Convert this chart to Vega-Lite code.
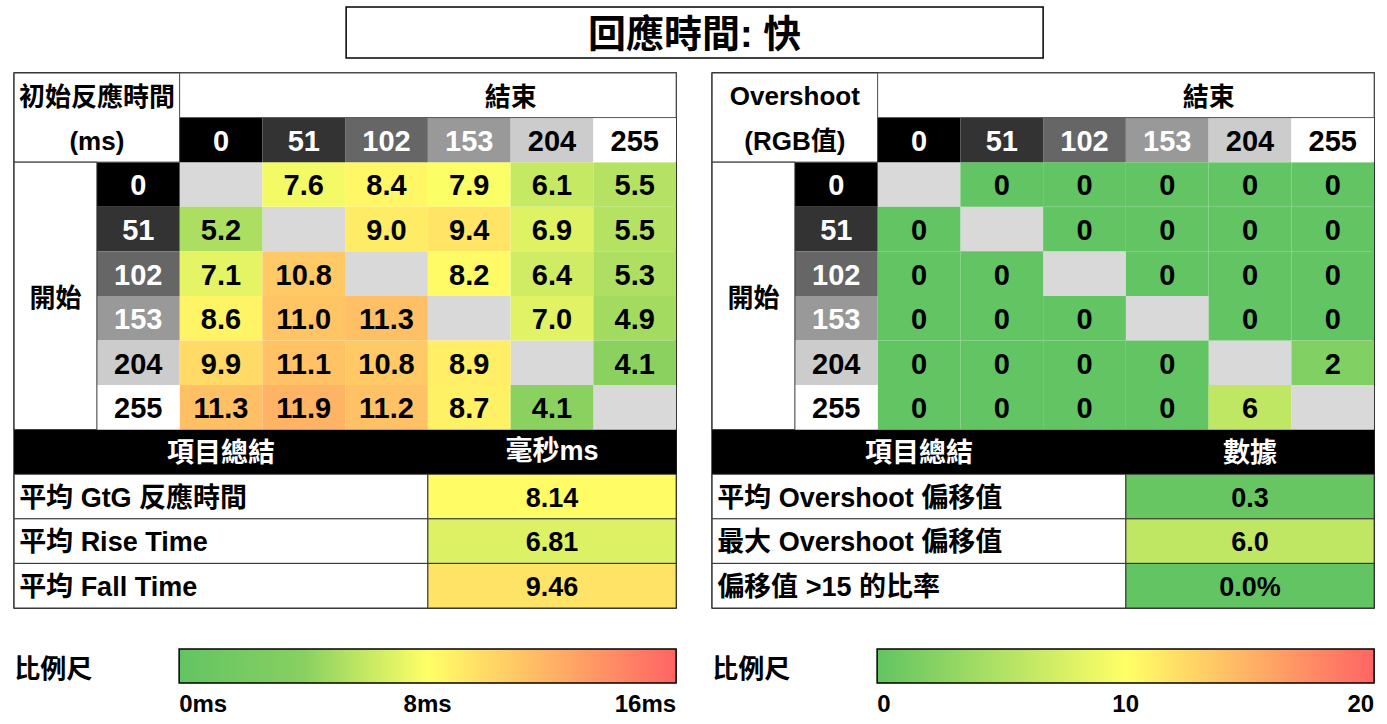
{
  "$schema": "https://vega.github.io/schema/vega-lite/v6.json",
  "background": "white",
  "padding": {"left": 12, "top": 6, "right": 15, "bottom": 5},
  "config": {"view": {"stroke": null}},
  "datasets": {
    "gtg": [
      {"start": "0", "end": "0", "value": null}, {"start": "0", "end": "51", "value": 7.6}, {"start": "0", "end": "102", "value": 8.4}, {"start": "0", "end": "153", "value": 7.9}, {"start": "0", "end": "204", "value": 6.1}, {"start": "0", "end": "255", "value": 5.5},
      {"start": "51", "end": "0", "value": 5.2}, {"start": "51", "end": "51", "value": null}, {"start": "51", "end": "102", "value": 9.0}, {"start": "51", "end": "153", "value": 9.4}, {"start": "51", "end": "204", "value": 6.9}, {"start": "51", "end": "255", "value": 5.5},
      {"start": "102", "end": "0", "value": 7.1}, {"start": "102", "end": "51", "value": 10.8}, {"start": "102", "end": "102", "value": null}, {"start": "102", "end": "153", "value": 8.2}, {"start": "102", "end": "204", "value": 6.4}, {"start": "102", "end": "255", "value": 5.3},
      {"start": "153", "end": "0", "value": 8.6}, {"start": "153", "end": "51", "value": 11.0}, {"start": "153", "end": "102", "value": 11.3}, {"start": "153", "end": "153", "value": null}, {"start": "153", "end": "204", "value": 7.0}, {"start": "153", "end": "255", "value": 4.9},
      {"start": "204", "end": "0", "value": 9.9}, {"start": "204", "end": "51", "value": 11.1}, {"start": "204", "end": "102", "value": 10.8}, {"start": "204", "end": "153", "value": 8.9}, {"start": "204", "end": "204", "value": null}, {"start": "204", "end": "255", "value": 4.1},
      {"start": "255", "end": "0", "value": 11.3}, {"start": "255", "end": "51", "value": 11.9}, {"start": "255", "end": "102", "value": 11.2}, {"start": "255", "end": "153", "value": 8.7}, {"start": "255", "end": "204", "value": 4.1}, {"start": "255", "end": "255", "value": null}
    ],
    "overshoot": [
      {"start": "0", "end": "0", "value": null}, {"start": "0", "end": "51", "value": 0}, {"start": "0", "end": "102", "value": 0}, {"start": "0", "end": "153", "value": 0}, {"start": "0", "end": "204", "value": 0}, {"start": "0", "end": "255", "value": 0},
      {"start": "51", "end": "0", "value": 0}, {"start": "51", "end": "51", "value": null}, {"start": "51", "end": "102", "value": 0}, {"start": "51", "end": "153", "value": 0}, {"start": "51", "end": "204", "value": 0}, {"start": "51", "end": "255", "value": 0},
      {"start": "102", "end": "0", "value": 0}, {"start": "102", "end": "51", "value": 0}, {"start": "102", "end": "102", "value": null}, {"start": "102", "end": "153", "value": 0}, {"start": "102", "end": "204", "value": 0}, {"start": "102", "end": "255", "value": 0},
      {"start": "153", "end": "0", "value": 0}, {"start": "153", "end": "51", "value": 0}, {"start": "153", "end": "102", "value": 0}, {"start": "153", "end": "153", "value": null}, {"start": "153", "end": "204", "value": 0}, {"start": "153", "end": "255", "value": 0},
      {"start": "204", "end": "0", "value": 0}, {"start": "204", "end": "51", "value": 0}, {"start": "204", "end": "102", "value": 0}, {"start": "204", "end": "153", "value": 0}, {"start": "204", "end": "204", "value": null}, {"start": "204", "end": "255", "value": 2},
      {"start": "255", "end": "0", "value": 0}, {"start": "255", "end": "51", "value": 0}, {"start": "255", "end": "102", "value": 0}, {"start": "255", "end": "153", "value": 0}, {"start": "255", "end": "204", "value": 6}, {"start": "255", "end": "255", "value": null}
    ],
    "levels": [
      {"level": "0", "gray": 0}, {"level": "51", "gray": 51}, {"level": "102", "gray": 102},
      {"level": "153", "gray": 153}, {"level": "204", "gray": 204}, {"level": "255", "gray": 255}
    ],
    "gtgSummary": [
      {"item": "平均 GtG 反應時間", "value": 8.14},
      {"item": "平均 Rise Time", "value": 6.81},
      {"item": "平均 Fall Time", "value": 9.46}
    ],
    "osSummary": [
      {"item": "平均 Overshoot 偏移值", "value": 0.3, "kind": "value"},
      {"item": "最大 Overshoot 偏移值", "value": 6.0, "kind": "value"},
      {"item": "偏移值 >15 的比率", "value": 0.0, "kind": "ratio"}
    ]
  },
  "spacing": 12,
  "center": true,
  "vconcat": [
    {
      "width": 697,
      "height": 51,
      "view": {"stroke": "black", "strokeWidth": 1.5},
      "data": {"values": [{"title": "回應時間:  快"}]},
      "mark": {"type": "text", "font": "Liberation Sans, Noto Sans CJK TC", "fontWeight": "bold", "fontSize": 38, "baseline": "middle", "dy": 3, "color": "black"},
      "encoding": {"text": {"field": "title"}}
    },
    {
      "spacing": 32,
      "resolve": {"scale": {"color": "independent", "fill": "independent"}, "legend": {"color": "independent"}},
      "hconcat": [
        {
          "width": 662,
          "height": 535,
          "view": {"stroke": "black", "strokeWidth": 1.5},
          "layer": [
            {
              "data": {"name": "gtg"},
              "transform": [{"filter": "datum.value == null"}],
              "mark": {"type": "rect", "fill": "#d9d9d9"},
              "encoding": {
                "x": {"field": "end", "type": "ordinal", "axis": null, "scale": {"type": "band", "domain": ["lab", "hdr", "0", "51", "102", "153", "204", "255"], "paddingInner": 0, "paddingOuter": 0}},
                "y": {"field": "start", "type": "ordinal", "axis": null, "scale": {"type": "band", "domain": ["top", "cols", "0", "51", "102", "153", "204", "255", "sum", "平均 GtG 反應時間", "平均 Rise Time", "平均 Fall Time"], "paddingInner": 0, "paddingOuter": 0}}
              }
            },
            {
              "data": {"name": "gtg"},
              "transform": [{"filter": "datum.value != null"}],
              "mark": {"type": "rect"},
              "encoding": {
                "x": {"field": "end", "type": "ordinal", "axis": null, "scale": {"type": "band", "domain": ["lab", "hdr", "0", "51", "102", "153", "204", "255"], "paddingInner": 0, "paddingOuter": 0}},
                "y": {"field": "start", "type": "ordinal", "axis": null, "scale": {"type": "band", "domain": ["top", "cols", "0", "51", "102", "153", "204", "255", "sum", "平均 GtG 反應時間", "平均 Rise Time", "平均 Fall Time"], "paddingInner": 0, "paddingOuter": 0}},
                "color": {
                  "field": "value", "type": "quantitative",
                  "scale": {"type": "linear", "domain": [0, 4, 8, 16], "range": ["#62c462", "#88d060", "#ffff66", "#ff6464"], "interpolate": "rgb"},
                  "legend": {
                    "title": "比例尺", "orient": "bottom", "direction": "horizontal", "offset": 41, "padding": 0,
                    "gradientLength": 497, "gradientThickness": 34, "gradientStrokeColor": "black", "gradientStrokeWidth": 1.5,
                    "values": [0, 8, 16], "labelExpr": "datum.value + 'ms'", "labelOverlap": false,
                    "labelFont": "Liberation Sans", "labelFontSize": 24, "labelFontWeight": "bold", "labelColor": "black", "labelOffset": 10,
                    "titleOrient": "left", "titleFont": "Noto Sans CJK TC", "titleFontSize": 26, "titleFontWeight": "bold", "titleColor": "black", "titlePadding": 86,
                    "titleBaseline": "line-top", "titleLineHeight": 8
                  }
                }
              }
            },
            {
              "data": {"name": "gtg"},
              "transform": [{"filter": "datum.value != null"}],
              "mark": {"type": "text", "font": "Liberation Sans", "fontWeight": "bold", "fontSize": 29, "baseline": "middle", "dy": 2, "color": "black"},
              "encoding": {
                "x": {"field": "end", "type": "ordinal", "axis": null, "scale": {"type": "band", "domain": ["lab", "hdr", "0", "51", "102", "153", "204", "255"], "paddingInner": 0, "paddingOuter": 0}},
                "y": {"field": "start", "type": "ordinal", "axis": null, "scale": {"type": "band", "domain": ["top", "cols", "0", "51", "102", "153", "204", "255", "sum", "平均 GtG 反應時間", "平均 Rise Time", "平均 Fall Time"], "paddingInner": 0, "paddingOuter": 0}},
                "text": {"field": "value", "type": "quantitative", "format": ".1f"}
              }
            },
            {
              "data": {"name": "levels"},
              "mark": {"type": "rect"},
              "encoding": {
                "x": {"field": "level", "type": "ordinal", "axis": null, "scale": {"type": "band", "domain": ["lab", "hdr", "0", "51", "102", "153", "204", "255"], "paddingInner": 0, "paddingOuter": 0}},
                "y": {"datum": "cols", "type": "ordinal", "axis": null, "scale": {"type": "band", "domain": ["top", "cols", "0", "51", "102", "153", "204", "255", "sum", "平均 GtG 反應時間", "平均 Rise Time", "平均 Fall Time"], "paddingInner": 0, "paddingOuter": 0}},
                "fill": {"field": "gray", "type": "quantitative", "legend": null, "scale": {"type": "linear", "domain": [0, 255], "range": ["#000000", "#ffffff"], "interpolate": "rgb"}}
              }
            },
            {
              "data": {"name": "levels"},
              "mark": {"type": "rect"},
              "encoding": {
                "x": {"datum": "hdr", "type": "ordinal", "axis": null, "scale": {"type": "band", "domain": ["lab", "hdr", "0", "51", "102", "153", "204", "255"], "paddingInner": 0, "paddingOuter": 0}},
                "y": {"field": "level", "type": "ordinal", "axis": null, "scale": {"type": "band", "domain": ["top", "cols", "0", "51", "102", "153", "204", "255", "sum", "平均 GtG 反應時間", "平均 Rise Time", "平均 Fall Time"], "paddingInner": 0, "paddingOuter": 0}},
                "fill": {"field": "gray", "type": "quantitative", "legend": null, "scale": {"type": "linear", "domain": [0, 255], "range": ["#000000", "#ffffff"], "interpolate": "rgb"}}
              }
            },
            {
              "data": {"name": "levels"},
              "mark": {"type": "text", "font": "Liberation Sans", "fontWeight": "bold", "fontSize": 29, "baseline": "middle", "dy": 2},
              "encoding": {
                "x": {"field": "level", "type": "ordinal", "axis": null, "scale": {"type": "band", "domain": ["lab", "hdr", "0", "51", "102", "153", "204", "255"], "paddingInner": 0, "paddingOuter": 0}},
                "y": {"datum": "cols", "type": "ordinal", "axis": null, "scale": {"type": "band", "domain": ["top", "cols", "0", "51", "102", "153", "204", "255", "sum", "平均 GtG 反應時間", "平均 Rise Time", "平均 Fall Time"], "paddingInner": 0, "paddingOuter": 0}},
                "text": {"field": "level"},
                "color": {"condition": {"test": "datum.gray < 180", "value": "white"}, "value": "black"}
              }
            },
            {
              "data": {"name": "levels"},
              "mark": {"type": "text", "font": "Liberation Sans", "fontWeight": "bold", "fontSize": 29, "baseline": "middle", "dy": 2},
              "encoding": {
                "x": {"datum": "hdr", "type": "ordinal", "axis": null, "scale": {"type": "band", "domain": ["lab", "hdr", "0", "51", "102", "153", "204", "255"], "paddingInner": 0, "paddingOuter": 0}},
                "y": {"field": "level", "type": "ordinal", "axis": null, "scale": {"type": "band", "domain": ["top", "cols", "0", "51", "102", "153", "204", "255", "sum", "平均 GtG 反應時間", "平均 Rise Time", "平均 Fall Time"], "paddingInner": 0, "paddingOuter": 0}},
                "text": {"field": "level"},
                "color": {"condition": {"test": "datum.gray < 180", "value": "white"}, "value": "black"}
              }
            },
            {
              "data": {"values": [{"label": "初始反應時間", "unit": "(ms)"}]},
              "mark": {"type": "rect", "fill": "white", "stroke": "#333333", "strokeWidth": 1},
              "encoding": {
                "x": {"datum": "lab", "bandPosition": 0, "type": "ordinal", "axis": null, "scale": {"type": "band", "domain": ["lab", "hdr", "0", "51", "102", "153", "204", "255"], "paddingInner": 0, "paddingOuter": 0}},
                "x2": {"datum": "hdr", "bandPosition": 1},
                "y": {"datum": "top", "bandPosition": 0, "type": "ordinal", "axis": null, "scale": {"type": "band", "domain": ["top", "cols", "0", "51", "102", "153", "204", "255", "sum", "平均 GtG 反應時間", "平均 Rise Time", "平均 Fall Time"], "paddingInner": 0, "paddingOuter": 0}},
                "y2": {"datum": "cols", "bandPosition": 1}
              }
            },
            {
              "data": {"values": [{"label": "初始反應時間", "unit": "(ms)"}]},
              "mark": {"type": "text", "font": "Noto Sans CJK TC", "fontWeight": "bold", "fontSize": 26, "baseline": "middle", "dy": 3, "color": "black"},
              "encoding": {
                "x": {"datum": "lab", "bandPosition": 1, "type": "ordinal", "axis": null, "scale": {"type": "band", "domain": ["lab", "hdr", "0", "51", "102", "153", "204", "255"], "paddingInner": 0, "paddingOuter": 0}},
                "y": {"datum": "top", "type": "ordinal", "axis": null, "scale": {"type": "band", "domain": ["top", "cols", "0", "51", "102", "153", "204", "255", "sum", "平均 GtG 反應時間", "平均 Rise Time", "平均 Fall Time"], "paddingInner": 0, "paddingOuter": 0}},
                "text": {"field": "label"}
              }
            },
            {
              "data": {"values": [{"label": "初始反應時間", "unit": "(ms)"}]},
              "mark": {"type": "text", "font": "Liberation Sans", "fontWeight": "bold", "fontSize": 26, "baseline": "middle", "dy": 2, "color": "black"},
              "encoding": {
                "x": {"datum": "lab", "bandPosition": 1, "type": "ordinal", "axis": null, "scale": {"type": "band", "domain": ["lab", "hdr", "0", "51", "102", "153", "204", "255"], "paddingInner": 0, "paddingOuter": 0}},
                "y": {"datum": "cols", "type": "ordinal", "axis": null, "scale": {"type": "band", "domain": ["top", "cols", "0", "51", "102", "153", "204", "255", "sum", "平均 GtG 反應時間", "平均 Rise Time", "平均 Fall Time"], "paddingInner": 0, "paddingOuter": 0}},
                "text": {"field": "unit"}
              }
            },
            {
              "data": {"values": [{"label": "結束"}]},
              "mark": {"type": "rect", "fill": "white", "stroke": "#555555", "strokeWidth": 1},
              "encoding": {
                "x": {"datum": "0", "bandPosition": 0, "type": "ordinal", "axis": null, "scale": {"type": "band", "domain": ["lab", "hdr", "0", "51", "102", "153", "204", "255"], "paddingInner": 0, "paddingOuter": 0}},
                "x2": {"datum": "255", "bandPosition": 1},
                "y": {"datum": "top", "type": "ordinal", "axis": null, "scale": {"type": "band", "domain": ["top", "cols", "0", "51", "102", "153", "204", "255", "sum", "平均 GtG 反應時間", "平均 Rise Time", "平均 Fall Time"], "paddingInner": 0, "paddingOuter": 0}}
              }
            },
            {
              "data": {"values": [{"label": "結束"}]},
              "mark": {"type": "text", "font": "Noto Sans CJK TC", "fontWeight": "bold", "fontSize": 26, "baseline": "middle", "dy": 3, "color": "black"},
              "encoding": {
                "x": {"datum": "153", "bandPosition": 1, "type": "ordinal", "axis": null, "scale": {"type": "band", "domain": ["lab", "hdr", "0", "51", "102", "153", "204", "255"], "paddingInner": 0, "paddingOuter": 0}},
                "y": {"datum": "top", "type": "ordinal", "axis": null, "scale": {"type": "band", "domain": ["top", "cols", "0", "51", "102", "153", "204", "255", "sum", "平均 GtG 反應時間", "平均 Rise Time", "平均 Fall Time"], "paddingInner": 0, "paddingOuter": 0}},
                "text": {"field": "label"}
              }
            },
            {
              "data": {"values": [{"label": "開始"}]},
              "mark": {"type": "rect", "fill": "white", "stroke": "#333333", "strokeWidth": 1},
              "encoding": {
                "x": {"datum": "lab", "type": "ordinal", "axis": null, "scale": {"type": "band", "domain": ["lab", "hdr", "0", "51", "102", "153", "204", "255"], "paddingInner": 0, "paddingOuter": 0}},
                "y": {"datum": "0", "bandPosition": 0, "type": "ordinal", "axis": null, "scale": {"type": "band", "domain": ["top", "cols", "0", "51", "102", "153", "204", "255", "sum", "平均 GtG 反應時間", "平均 Rise Time", "平均 Fall Time"], "paddingInner": 0, "paddingOuter": 0}},
                "y2": {"datum": "255", "bandPosition": 1}
              }
            },
            {
              "data": {"values": [{"label": "開始"}]},
              "mark": {"type": "text", "font": "Noto Sans CJK TC", "fontWeight": "bold", "fontSize": 26, "baseline": "middle", "dy": 3, "color": "black"},
              "encoding": {
                "x": {"datum": "lab", "type": "ordinal", "axis": null, "scale": {"type": "band", "domain": ["lab", "hdr", "0", "51", "102", "153", "204", "255"], "paddingInner": 0, "paddingOuter": 0}},
                "y": {"datum": "102", "bandPosition": 1, "type": "ordinal", "axis": null, "scale": {"type": "band", "domain": ["top", "cols", "0", "51", "102", "153", "204", "255", "sum", "平均 GtG 反應時間", "平均 Rise Time", "平均 Fall Time"], "paddingInner": 0, "paddingOuter": 0}},
                "text": {"field": "label"}
              }
            },
            {
              "data": {"values": [{"item": "項目總結", "unit": "毫秒ms"}]},
              "mark": {"type": "rect", "fill": "black"},
              "encoding": {
                "x": {"datum": "lab", "bandPosition": 0, "type": "ordinal", "axis": null, "scale": {"type": "band", "domain": ["lab", "hdr", "0", "51", "102", "153", "204", "255"], "paddingInner": 0, "paddingOuter": 0}},
                "x2": {"datum": "255", "bandPosition": 1},
                "y": {"datum": "sum", "type": "ordinal", "axis": null, "scale": {"type": "band", "domain": ["top", "cols", "0", "51", "102", "153", "204", "255", "sum", "平均 GtG 反應時間", "平均 Rise Time", "平均 Fall Time"], "paddingInner": 0, "paddingOuter": 0}}
              }
            },
            {
              "data": {"values": [{"item": "項目總結", "unit": "毫秒ms"}]},
              "mark": {"type": "text", "font": "Noto Sans CJK TC", "fontWeight": "bold", "fontSize": 27, "baseline": "middle", "dy": 2, "color": "white"},
              "encoding": {
                "x": {"datum": "0", "type": "ordinal", "axis": null, "scale": {"type": "band", "domain": ["lab", "hdr", "0", "51", "102", "153", "204", "255"], "paddingInner": 0, "paddingOuter": 0}},
                "y": {"datum": "sum", "type": "ordinal", "axis": null, "scale": {"type": "band", "domain": ["top", "cols", "0", "51", "102", "153", "204", "255", "sum", "平均 GtG 反應時間", "平均 Rise Time", "平均 Fall Time"], "paddingInner": 0, "paddingOuter": 0}},
                "text": {"field": "item"}
              }
            },
            {
              "data": {"values": [{"item": "項目總結", "unit": "毫秒ms"}]},
              "mark": {"type": "text", "font": "Liberation Sans, Noto Sans CJK TC", "fontWeight": "bold", "fontSize": 27, "baseline": "middle", "dy": 0, "color": "white"},
              "encoding": {
                "x": {"datum": "204", "type": "ordinal", "axis": null, "scale": {"type": "band", "domain": ["lab", "hdr", "0", "51", "102", "153", "204", "255"], "paddingInner": 0, "paddingOuter": 0}},
                "y": {"datum": "sum", "type": "ordinal", "axis": null, "scale": {"type": "band", "domain": ["top", "cols", "0", "51", "102", "153", "204", "255", "sum", "平均 GtG 反應時間", "平均 Rise Time", "平均 Fall Time"], "paddingInner": 0, "paddingOuter": 0}},
                "text": {"field": "unit"}
              }
            },
            {
              "data": {"name": "gtgSummary"},
              "mark": {"type": "rect", "fill": "white", "stroke": "#333333", "strokeWidth": 1},
              "encoding": {
                "x": {"datum": "lab", "bandPosition": 0, "type": "ordinal", "axis": null, "scale": {"type": "band", "domain": ["lab", "hdr", "0", "51", "102", "153", "204", "255"], "paddingInner": 0, "paddingOuter": 0}},
                "x2": {"datum": "102", "bandPosition": 1},
                "y": {"field": "item", "type": "ordinal", "axis": null, "scale": {"type": "band", "domain": ["top", "cols", "0", "51", "102", "153", "204", "255", "sum", "平均 GtG 反應時間", "平均 Rise Time", "平均 Fall Time"], "paddingInner": 0, "paddingOuter": 0}}
              }
            },
            {
              "data": {"name": "gtgSummary"},
              "mark": {"type": "rect", "stroke": "#333333", "strokeWidth": 1},
              "encoding": {
                "x": {"datum": "153", "bandPosition": 0, "type": "ordinal", "axis": null, "scale": {"type": "band", "domain": ["lab", "hdr", "0", "51", "102", "153", "204", "255"], "paddingInner": 0, "paddingOuter": 0}},
                "x2": {"datum": "255", "bandPosition": 1},
                "y": {"field": "item", "type": "ordinal", "axis": null, "scale": {"type": "band", "domain": ["top", "cols", "0", "51", "102", "153", "204", "255", "sum", "平均 GtG 反應時間", "平均 Rise Time", "平均 Fall Time"], "paddingInner": 0, "paddingOuter": 0}},
                "color": {"field": "value", "type": "quantitative", "scale": {"type": "linear", "domain": [0, 4, 8, 16], "range": ["#62c462", "#88d060", "#ffff66", "#ff6464"], "interpolate": "rgb"}}
              }
            },
            {
              "data": {"name": "gtgSummary"},
              "mark": {"type": "text", "font": "Liberation Sans, Noto Sans CJK TC", "fontWeight": "bold", "fontSize": 27, "baseline": "middle", "align": "left", "dx": 5, "dy": 2, "color": "black"},
              "encoding": {
                "x": {"datum": "lab", "bandPosition": 0, "type": "ordinal", "axis": null, "scale": {"type": "band", "domain": ["lab", "hdr", "0", "51", "102", "153", "204", "255"], "paddingInner": 0, "paddingOuter": 0}},
                "y": {"field": "item", "type": "ordinal", "axis": null, "scale": {"type": "band", "domain": ["top", "cols", "0", "51", "102", "153", "204", "255", "sum", "平均 GtG 反應時間", "平均 Rise Time", "平均 Fall Time"], "paddingInner": 0, "paddingOuter": 0}},
                "text": {"field": "item"}
              }
            },
            {
              "data": {"name": "gtgSummary"},
              "mark": {"type": "text", "font": "Liberation Sans", "fontWeight": "bold", "fontSize": 27, "baseline": "middle", "dy": 2, "color": "black"},
              "encoding": {
                "x": {"datum": "204", "type": "ordinal", "axis": null, "scale": {"type": "band", "domain": ["lab", "hdr", "0", "51", "102", "153", "204", "255"], "paddingInner": 0, "paddingOuter": 0}},
                "y": {"field": "item", "type": "ordinal", "axis": null, "scale": {"type": "band", "domain": ["top", "cols", "0", "51", "102", "153", "204", "255", "sum", "平均 GtG 反應時間", "平均 Rise Time", "平均 Fall Time"], "paddingInner": 0, "paddingOuter": 0}},
                "text": {"field": "value", "type": "quantitative", "format": ".2f"}
              }
            }
          ]
        },
        {
          "width": 662,
          "height": 535,
          "view": {"stroke": "black", "strokeWidth": 1.5},
          "layer": [
            {
              "data": {"name": "overshoot"},
              "transform": [{"filter": "datum.value == null"}],
              "mark": {"type": "rect", "fill": "#d9d9d9"},
              "encoding": {
                "x": {"field": "end", "type": "ordinal", "axis": null, "scale": {"type": "band", "domain": ["lab", "hdr", "0", "51", "102", "153", "204", "255"], "paddingInner": 0, "paddingOuter": 0}},
                "y": {"field": "start", "type": "ordinal", "axis": null, "scale": {"type": "band", "domain": ["top", "cols", "0", "51", "102", "153", "204", "255", "sum", "平均 Overshoot 偏移值", "最大 Overshoot 偏移值", "偏移值 >15 的比率"], "paddingInner": 0, "paddingOuter": 0}}
              }
            },
            {
              "data": {"name": "overshoot"},
              "transform": [{"filter": "datum.value != null"}],
              "mark": {"type": "rect"},
              "encoding": {
                "x": {"field": "end", "type": "ordinal", "axis": null, "scale": {"type": "band", "domain": ["lab", "hdr", "0", "51", "102", "153", "204", "255"], "paddingInner": 0, "paddingOuter": 0}},
                "y": {"field": "start", "type": "ordinal", "axis": null, "scale": {"type": "band", "domain": ["top", "cols", "0", "51", "102", "153", "204", "255", "sum", "平均 Overshoot 偏移值", "最大 Overshoot 偏移值", "偏移值 >15 的比率"], "paddingInner": 0, "paddingOuter": 0}},
                "color": {
                  "field": "value", "type": "quantitative",
                  "scale": {"type": "linear", "domain": [0, 10, 20], "range": ["#62c462", "#ffff66", "#ff6464"], "interpolate": "rgb"},
                  "legend": {
                    "title": "比例尺", "orient": "bottom", "direction": "horizontal", "offset": 41, "padding": 0,
                    "gradientLength": 497, "gradientThickness": 34, "gradientStrokeColor": "black", "gradientStrokeWidth": 1.5,
                    "values": [0, 10, 20], "labelOverlap": false,
                    "labelFont": "Liberation Sans", "labelFontSize": 24, "labelFontWeight": "bold", "labelColor": "black", "labelOffset": 10,
                    "titleOrient": "left", "titleFont": "Noto Sans CJK TC", "titleFontSize": 26, "titleFontWeight": "bold", "titleColor": "black", "titlePadding": 86,
                    "titleBaseline": "line-top", "titleLineHeight": 8
                  }
                }
              }
            },
            {
              "data": {"name": "overshoot"},
              "transform": [{"filter": "datum.value != null"}],
              "mark": {"type": "text", "font": "Liberation Sans", "fontWeight": "bold", "fontSize": 29, "baseline": "middle", "dy": 2, "color": "black"},
              "encoding": {
                "x": {"field": "end", "type": "ordinal", "axis": null, "scale": {"type": "band", "domain": ["lab", "hdr", "0", "51", "102", "153", "204", "255"], "paddingInner": 0, "paddingOuter": 0}},
                "y": {"field": "start", "type": "ordinal", "axis": null, "scale": {"type": "band", "domain": ["top", "cols", "0", "51", "102", "153", "204", "255", "sum", "平均 Overshoot 偏移值", "最大 Overshoot 偏移值", "偏移值 >15 的比率"], "paddingInner": 0, "paddingOuter": 0}},
                "text": {"field": "value", "type": "quantitative", "format": "d"}
              }
            },
            {
              "data": {"name": "levels"},
              "mark": {"type": "rect"},
              "encoding": {
                "x": {"field": "level", "type": "ordinal", "axis": null, "scale": {"type": "band", "domain": ["lab", "hdr", "0", "51", "102", "153", "204", "255"], "paddingInner": 0, "paddingOuter": 0}},
                "y": {"datum": "cols", "type": "ordinal", "axis": null, "scale": {"type": "band", "domain": ["top", "cols", "0", "51", "102", "153", "204", "255", "sum", "平均 Overshoot 偏移值", "最大 Overshoot 偏移值", "偏移值 >15 的比率"], "paddingInner": 0, "paddingOuter": 0}},
                "fill": {"field": "gray", "type": "quantitative", "legend": null, "scale": {"type": "linear", "domain": [0, 255], "range": ["#000000", "#ffffff"], "interpolate": "rgb"}}
              }
            },
            {
              "data": {"name": "levels"},
              "mark": {"type": "rect"},
              "encoding": {
                "x": {"datum": "hdr", "type": "ordinal", "axis": null, "scale": {"type": "band", "domain": ["lab", "hdr", "0", "51", "102", "153", "204", "255"], "paddingInner": 0, "paddingOuter": 0}},
                "y": {"field": "level", "type": "ordinal", "axis": null, "scale": {"type": "band", "domain": ["top", "cols", "0", "51", "102", "153", "204", "255", "sum", "平均 Overshoot 偏移值", "最大 Overshoot 偏移值", "偏移值 >15 的比率"], "paddingInner": 0, "paddingOuter": 0}},
                "fill": {"field": "gray", "type": "quantitative", "legend": null, "scale": {"type": "linear", "domain": [0, 255], "range": ["#000000", "#ffffff"], "interpolate": "rgb"}}
              }
            },
            {
              "data": {"name": "levels"},
              "mark": {"type": "text", "font": "Liberation Sans", "fontWeight": "bold", "fontSize": 29, "baseline": "middle", "dy": 2},
              "encoding": {
                "x": {"field": "level", "type": "ordinal", "axis": null, "scale": {"type": "band", "domain": ["lab", "hdr", "0", "51", "102", "153", "204", "255"], "paddingInner": 0, "paddingOuter": 0}},
                "y": {"datum": "cols", "type": "ordinal", "axis": null, "scale": {"type": "band", "domain": ["top", "cols", "0", "51", "102", "153", "204", "255", "sum", "平均 Overshoot 偏移值", "最大 Overshoot 偏移值", "偏移值 >15 的比率"], "paddingInner": 0, "paddingOuter": 0}},
                "text": {"field": "level"},
                "color": {"condition": {"test": "datum.gray < 180", "value": "white"}, "value": "black"}
              }
            },
            {
              "data": {"name": "levels"},
              "mark": {"type": "text", "font": "Liberation Sans", "fontWeight": "bold", "fontSize": 29, "baseline": "middle", "dy": 2},
              "encoding": {
                "x": {"datum": "hdr", "type": "ordinal", "axis": null, "scale": {"type": "band", "domain": ["lab", "hdr", "0", "51", "102", "153", "204", "255"], "paddingInner": 0, "paddingOuter": 0}},
                "y": {"field": "level", "type": "ordinal", "axis": null, "scale": {"type": "band", "domain": ["top", "cols", "0", "51", "102", "153", "204", "255", "sum", "平均 Overshoot 偏移值", "最大 Overshoot 偏移值", "偏移值 >15 的比率"], "paddingInner": 0, "paddingOuter": 0}},
                "text": {"field": "level"},
                "color": {"condition": {"test": "datum.gray < 180", "value": "white"}, "value": "black"}
              }
            },
            {
              "data": {"values": [{"label": "Overshoot", "unit": "(RGB值)"}]},
              "mark": {"type": "rect", "fill": "white", "stroke": "#333333", "strokeWidth": 1},
              "encoding": {
                "x": {"datum": "lab", "bandPosition": 0, "type": "ordinal", "axis": null, "scale": {"type": "band", "domain": ["lab", "hdr", "0", "51", "102", "153", "204", "255"], "paddingInner": 0, "paddingOuter": 0}},
                "x2": {"datum": "hdr", "bandPosition": 1},
                "y": {"datum": "top", "bandPosition": 0, "type": "ordinal", "axis": null, "scale": {"type": "band", "domain": ["top", "cols", "0", "51", "102", "153", "204", "255", "sum", "平均 Overshoot 偏移值", "最大 Overshoot 偏移值", "偏移值 >15 的比率"], "paddingInner": 0, "paddingOuter": 0}},
                "y2": {"datum": "cols", "bandPosition": 1}
              }
            },
            {
              "data": {"values": [{"label": "Overshoot", "unit": "(RGB值)"}]},
              "mark": {"type": "text", "font": "Liberation Sans", "fontWeight": "bold", "fontSize": 26, "baseline": "middle", "dy": 2, "color": "black"},
              "encoding": {
                "x": {"datum": "lab", "bandPosition": 1, "type": "ordinal", "axis": null, "scale": {"type": "band", "domain": ["lab", "hdr", "0", "51", "102", "153", "204", "255"], "paddingInner": 0, "paddingOuter": 0}},
                "y": {"datum": "top", "type": "ordinal", "axis": null, "scale": {"type": "band", "domain": ["top", "cols", "0", "51", "102", "153", "204", "255", "sum", "平均 Overshoot 偏移值", "最大 Overshoot 偏移值", "偏移值 >15 的比率"], "paddingInner": 0, "paddingOuter": 0}},
                "text": {"field": "label"}
              }
            },
            {
              "data": {"values": [{"label": "Overshoot", "unit": "(RGB值)"}]},
              "mark": {"type": "text", "font": "Liberation Sans, Noto Sans CJK TC", "fontWeight": "bold", "fontSize": 26, "baseline": "middle", "dy": 2, "color": "black"},
              "encoding": {
                "x": {"datum": "lab", "bandPosition": 1, "type": "ordinal", "axis": null, "scale": {"type": "band", "domain": ["lab", "hdr", "0", "51", "102", "153", "204", "255"], "paddingInner": 0, "paddingOuter": 0}},
                "y": {"datum": "cols", "type": "ordinal", "axis": null, "scale": {"type": "band", "domain": ["top", "cols", "0", "51", "102", "153", "204", "255", "sum", "平均 Overshoot 偏移值", "最大 Overshoot 偏移值", "偏移值 >15 的比率"], "paddingInner": 0, "paddingOuter": 0}},
                "text": {"field": "unit"}
              }
            },
            {
              "data": {"values": [{"label": "結束"}]},
              "mark": {"type": "rect", "fill": "white", "stroke": "#555555", "strokeWidth": 1},
              "encoding": {
                "x": {"datum": "0", "bandPosition": 0, "type": "ordinal", "axis": null, "scale": {"type": "band", "domain": ["lab", "hdr", "0", "51", "102", "153", "204", "255"], "paddingInner": 0, "paddingOuter": 0}},
                "x2": {"datum": "255", "bandPosition": 1},
                "y": {"datum": "top", "type": "ordinal", "axis": null, "scale": {"type": "band", "domain": ["top", "cols", "0", "51", "102", "153", "204", "255", "sum", "平均 Overshoot 偏移值", "最大 Overshoot 偏移值", "偏移值 >15 的比率"], "paddingInner": 0, "paddingOuter": 0}}
              }
            },
            {
              "data": {"values": [{"label": "結束"}]},
              "mark": {"type": "text", "font": "Noto Sans CJK TC", "fontWeight": "bold", "fontSize": 26, "baseline": "middle", "dy": 3, "color": "black"},
              "encoding": {
                "x": {"datum": "153", "bandPosition": 1, "type": "ordinal", "axis": null, "scale": {"type": "band", "domain": ["lab", "hdr", "0", "51", "102", "153", "204", "255"], "paddingInner": 0, "paddingOuter": 0}},
                "y": {"datum": "top", "type": "ordinal", "axis": null, "scale": {"type": "band", "domain": ["top", "cols", "0", "51", "102", "153", "204", "255", "sum", "平均 Overshoot 偏移值", "最大 Overshoot 偏移值", "偏移值 >15 的比率"], "paddingInner": 0, "paddingOuter": 0}},
                "text": {"field": "label"}
              }
            },
            {
              "data": {"values": [{"label": "開始"}]},
              "mark": {"type": "rect", "fill": "white", "stroke": "#333333", "strokeWidth": 1},
              "encoding": {
                "x": {"datum": "lab", "type": "ordinal", "axis": null, "scale": {"type": "band", "domain": ["lab", "hdr", "0", "51", "102", "153", "204", "255"], "paddingInner": 0, "paddingOuter": 0}},
                "y": {"datum": "0", "bandPosition": 0, "type": "ordinal", "axis": null, "scale": {"type": "band", "domain": ["top", "cols", "0", "51", "102", "153", "204", "255", "sum", "平均 Overshoot 偏移值", "最大 Overshoot 偏移值", "偏移值 >15 的比率"], "paddingInner": 0, "paddingOuter": 0}},
                "y2": {"datum": "255", "bandPosition": 1}
              }
            },
            {
              "data": {"values": [{"label": "開始"}]},
              "mark": {"type": "text", "font": "Noto Sans CJK TC", "fontWeight": "bold", "fontSize": 26, "baseline": "middle", "dy": 3, "color": "black"},
              "encoding": {
                "x": {"datum": "lab", "type": "ordinal", "axis": null, "scale": {"type": "band", "domain": ["lab", "hdr", "0", "51", "102", "153", "204", "255"], "paddingInner": 0, "paddingOuter": 0}},
                "y": {"datum": "102", "bandPosition": 1, "type": "ordinal", "axis": null, "scale": {"type": "band", "domain": ["top", "cols", "0", "51", "102", "153", "204", "255", "sum", "平均 Overshoot 偏移值", "最大 Overshoot 偏移值", "偏移值 >15 的比率"], "paddingInner": 0, "paddingOuter": 0}},
                "text": {"field": "label"}
              }
            },
            {
              "data": {"values": [{"item": "項目總結", "unit": "數據"}]},
              "mark": {"type": "rect", "fill": "black"},
              "encoding": {
                "x": {"datum": "lab", "bandPosition": 0, "type": "ordinal", "axis": null, "scale": {"type": "band", "domain": ["lab", "hdr", "0", "51", "102", "153", "204", "255"], "paddingInner": 0, "paddingOuter": 0}},
                "x2": {"datum": "255", "bandPosition": 1},
                "y": {"datum": "sum", "type": "ordinal", "axis": null, "scale": {"type": "band", "domain": ["top", "cols", "0", "51", "102", "153", "204", "255", "sum", "平均 Overshoot 偏移值", "最大 Overshoot 偏移值", "偏移值 >15 的比率"], "paddingInner": 0, "paddingOuter": 0}}
              }
            },
            {
              "data": {"values": [{"item": "項目總結", "unit": "數據"}]},
              "mark": {"type": "text", "font": "Noto Sans CJK TC", "fontWeight": "bold", "fontSize": 27, "baseline": "middle", "dy": 2, "color": "white"},
              "encoding": {
                "x": {"datum": "0", "type": "ordinal", "axis": null, "scale": {"type": "band", "domain": ["lab", "hdr", "0", "51", "102", "153", "204", "255"], "paddingInner": 0, "paddingOuter": 0}},
                "y": {"datum": "sum", "type": "ordinal", "axis": null, "scale": {"type": "band", "domain": ["top", "cols", "0", "51", "102", "153", "204", "255", "sum", "平均 Overshoot 偏移值", "最大 Overshoot 偏移值", "偏移值 >15 的比率"], "paddingInner": 0, "paddingOuter": 0}},
                "text": {"field": "item"}
              }
            },
            {
              "data": {"values": [{"item": "項目總結", "unit": "數據"}]},
              "mark": {"type": "text", "font": "Noto Sans CJK TC", "fontWeight": "bold", "fontSize": 27, "baseline": "middle", "dy": 2, "color": "white"},
              "encoding": {
                "x": {"datum": "204", "type": "ordinal", "axis": null, "scale": {"type": "band", "domain": ["lab", "hdr", "0", "51", "102", "153", "204", "255"], "paddingInner": 0, "paddingOuter": 0}},
                "y": {"datum": "sum", "type": "ordinal", "axis": null, "scale": {"type": "band", "domain": ["top", "cols", "0", "51", "102", "153", "204", "255", "sum", "平均 Overshoot 偏移值", "最大 Overshoot 偏移值", "偏移值 >15 的比率"], "paddingInner": 0, "paddingOuter": 0}},
                "text": {"field": "unit"}
              }
            },
            {
              "data": {"name": "osSummary"},
              "mark": {"type": "rect", "fill": "white", "stroke": "#333333", "strokeWidth": 1},
              "encoding": {
                "x": {"datum": "lab", "bandPosition": 0, "type": "ordinal", "axis": null, "scale": {"type": "band", "domain": ["lab", "hdr", "0", "51", "102", "153", "204", "255"], "paddingInner": 0, "paddingOuter": 0}},
                "x2": {"datum": "102", "bandPosition": 1},
                "y": {"field": "item", "type": "ordinal", "axis": null, "scale": {"type": "band", "domain": ["top", "cols", "0", "51", "102", "153", "204", "255", "sum", "平均 Overshoot 偏移值", "最大 Overshoot 偏移值", "偏移值 >15 的比率"], "paddingInner": 0, "paddingOuter": 0}}
              }
            },
            {
              "data": {"name": "osSummary"},
              "mark": {"type": "rect", "stroke": "#333333", "strokeWidth": 1},
              "encoding": {
                "x": {"datum": "153", "bandPosition": 0, "type": "ordinal", "axis": null, "scale": {"type": "band", "domain": ["lab", "hdr", "0", "51", "102", "153", "204", "255"], "paddingInner": 0, "paddingOuter": 0}},
                "x2": {"datum": "255", "bandPosition": 1},
                "y": {"field": "item", "type": "ordinal", "axis": null, "scale": {"type": "band", "domain": ["top", "cols", "0", "51", "102", "153", "204", "255", "sum", "平均 Overshoot 偏移值", "最大 Overshoot 偏移值", "偏移值 >15 的比率"], "paddingInner": 0, "paddingOuter": 0}},
                "color": {"field": "value", "type": "quantitative", "scale": {"type": "linear", "domain": [0, 10, 20], "range": ["#62c462", "#ffff66", "#ff6464"], "interpolate": "rgb"}}
              }
            },
            {
              "data": {"name": "osSummary"},
              "mark": {"type": "text", "font": "Liberation Sans, Noto Sans CJK TC", "fontWeight": "bold", "fontSize": 27, "baseline": "middle", "align": "left", "dx": 5, "dy": 2, "color": "black"},
              "encoding": {
                "x": {"datum": "lab", "bandPosition": 0, "type": "ordinal", "axis": null, "scale": {"type": "band", "domain": ["lab", "hdr", "0", "51", "102", "153", "204", "255"], "paddingInner": 0, "paddingOuter": 0}},
                "y": {"field": "item", "type": "ordinal", "axis": null, "scale": {"type": "band", "domain": ["top", "cols", "0", "51", "102", "153", "204", "255", "sum", "平均 Overshoot 偏移值", "最大 Overshoot 偏移值", "偏移值 >15 的比率"], "paddingInner": 0, "paddingOuter": 0}},
                "text": {"field": "item"}
              }
            },
            {
              "data": {"name": "osSummary"},
              "transform": [{"filter": "datum.kind === 'value'"}],
              "mark": {"type": "text", "font": "Liberation Sans", "fontWeight": "bold", "fontSize": 27, "baseline": "middle", "dy": 2, "color": "black"},
              "encoding": {
                "x": {"datum": "204", "type": "ordinal", "axis": null, "scale": {"type": "band", "domain": ["lab", "hdr", "0", "51", "102", "153", "204", "255"], "paddingInner": 0, "paddingOuter": 0}},
                "y": {"field": "item", "type": "ordinal", "axis": null, "scale": {"type": "band", "domain": ["top", "cols", "0", "51", "102", "153", "204", "255", "sum", "平均 Overshoot 偏移值", "最大 Overshoot 偏移值", "偏移值 >15 的比率"], "paddingInner": 0, "paddingOuter": 0}},
                "text": {"field": "value", "type": "quantitative", "format": ".1f"}
              }
            },
            {
              "data": {"name": "osSummary"},
              "transform": [{"filter": "datum.kind === 'ratio'"}],
              "mark": {"type": "text", "font": "Liberation Sans", "fontWeight": "bold", "fontSize": 27, "baseline": "middle", "dy": 2, "color": "black"},
              "encoding": {
                "x": {"datum": "204", "type": "ordinal", "axis": null, "scale": {"type": "band", "domain": ["lab", "hdr", "0", "51", "102", "153", "204", "255"], "paddingInner": 0, "paddingOuter": 0}},
                "y": {"field": "item", "type": "ordinal", "axis": null, "scale": {"type": "band", "domain": ["top", "cols", "0", "51", "102", "153", "204", "255", "sum", "平均 Overshoot 偏移值", "最大 Overshoot 偏移值", "偏移值 >15 的比率"], "paddingInner": 0, "paddingOuter": 0}},
                "text": {"field": "value", "type": "quantitative", "format": ".1%"}
              }
            }
          ]
        }
      ]
    }
  ]
}
